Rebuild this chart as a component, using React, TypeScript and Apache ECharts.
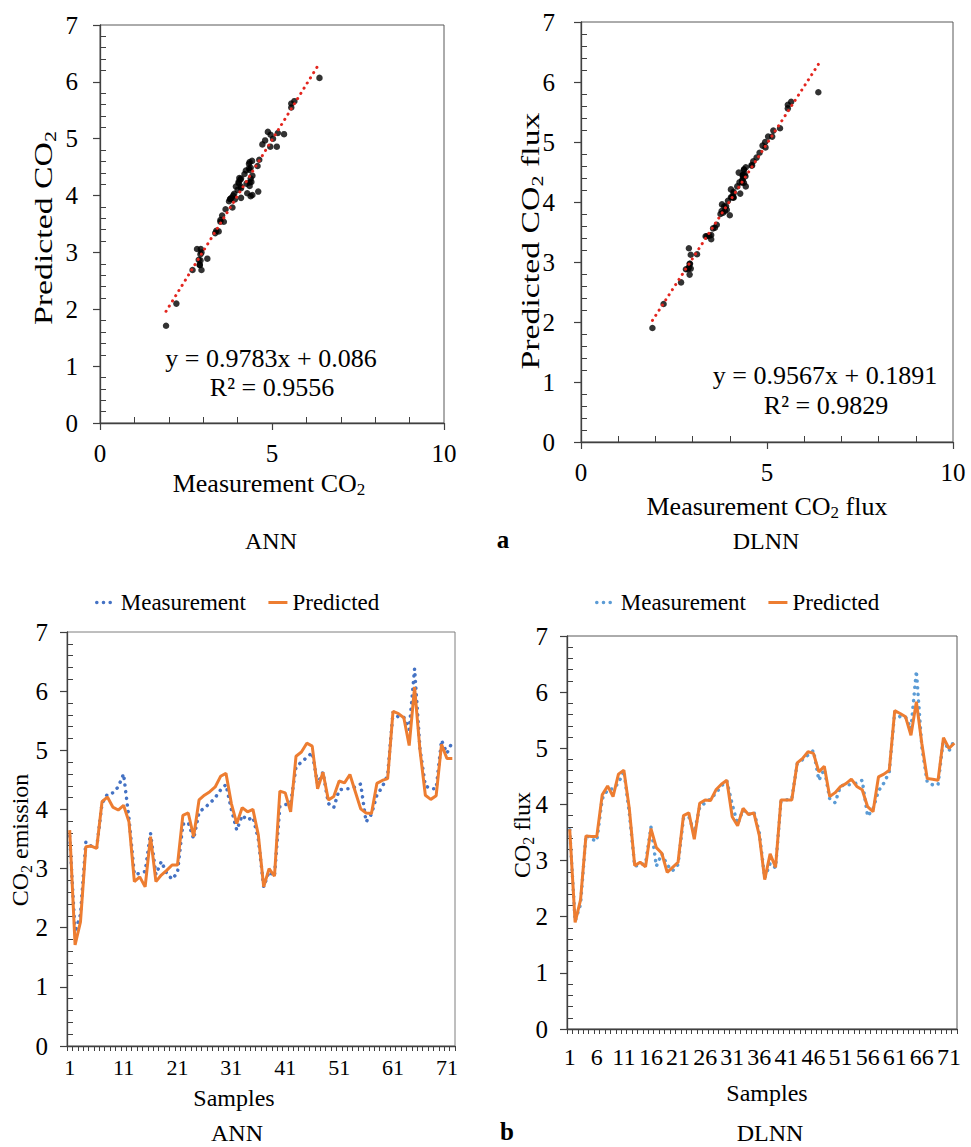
import React, { useEffect, useRef } from "react";
import * as echarts from "echarts";

// ---------- data ----------
const samples: string[] = Array.from({ length: 72 }, (_, i) => String(i + 1));

const measurement: number[] = [
  3.55, 1.92, 2.22, 3.45, 3.38, 3.35, 4.1, 4.26, 4.28, 4.38,
  4.6, 3.85, 2.9, 2.92, 2.95, 3.6, 2.9, 3.12, 2.92, 2.82,
  2.93, 3.75, 3.78, 3.5, 3.95, 4.03, 4.1, 4.2, 4.33, 4.42,
  4.0, 3.65, 3.9, 3.82, 3.87, 3.5, 2.69, 2.95, 2.87, 4.05,
  4.08, 4.1, 4.72, 4.8, 4.88, 4.96, 4.43, 4.63, 4.1, 4.03,
  4.33, 4.35, 4.35, 4.38, 4.43, 3.79, 3.92, 4.24, 4.38, 4.58,
  5.65, 5.56, 5.56, 5.35, 6.38, 5.03, 4.4, 4.35, 4.35, 5.17,
  4.95, 5.14,
];

const annPredicted: number[] = [
  3.65, 1.71, 2.1, 3.37, 3.38, 3.34, 4.13, 4.21, 4.04, 3.99,
  4.07, 3.79, 2.78, 2.86, 2.69, 3.54, 2.78, 2.89, 2.97, 3.06,
  3.06, 3.9, 3.94, 3.54, 4.16, 4.24, 4.3, 4.38, 4.56, 4.61,
  4.1, 3.76, 4.03, 3.96, 4.0, 3.57, 2.69, 3.0, 2.87, 4.31,
  4.28, 3.96, 4.9, 4.97, 5.12, 5.07, 4.35, 4.63, 4.16, 4.22,
  4.48, 4.45, 4.59, 4.3, 4.01, 3.94, 3.93, 4.44, 4.49, 4.52,
  5.66, 5.62, 5.55, 5.08, 6.07, 5.0, 4.24, 4.17, 4.23, 5.1,
  4.86, 4.86,
];

const dlnnPredicted: number[] = [
  3.56, 1.9, 2.3, 3.44, 3.43, 3.43, 4.17, 4.33, 4.14, 4.54,
  4.61, 3.93, 2.91, 2.97, 2.89, 3.57, 3.23, 3.13, 2.79, 2.88,
  2.97, 3.8, 3.85, 3.38, 4.02, 4.08, 4.07, 4.26, 4.36, 4.43,
  3.78, 3.62, 3.93, 3.82, 3.85, 3.45, 2.66, 3.12, 2.88, 4.08,
  4.08, 4.08, 4.74, 4.82, 4.94, 4.91, 4.58, 4.68, 4.14, 4.21,
  4.32, 4.37, 4.45, 4.32, 4.26, 3.96, 3.87, 4.49, 4.54, 4.61,
  5.67, 5.62, 5.56, 5.23, 5.83, 5.09, 4.46, 4.45, 4.43, 5.19,
  5.0, 5.09,
];

// trendline: [slope, intercept], R² label
const annTrend: number[] = [0.9783, 0.086];
const annR2 = "0.9556";
const dlnnTrend: number[] = [0.9567, 0.1891];
const dlnnR2 = "0.9829";

// ---------- styles ----------
const FONT = '"Liberation Serif", "Times New Roman", Times, serif';
const AXIS_COLOR = "#404040";
const DOTS = [0.1, 6.6];

const trendPoints = (t: number[]) => {
  const lo = Math.min(...measurement);
  const hi = Math.max(...measurement);
  return [
    [lo, t[0] * lo + t[1]],
    [hi, t[0] * hi + t[1]],
  ];
};

const valueAxis = (gi: number, max: number, interval: number, margin: number) => ({
  type: "value",
  gridIndex: gi,
  min: 0,
  max,
  interval,
  axisLine: { show: true, onZero: false, lineStyle: { color: AXIS_COLOR, width: 1.3 } },
  axisTick: { show: true, length: 7, lineStyle: { color: AXIS_COLOR, width: 1.2 } },
  minorTick: { show: true, splitNumber: 5, length: -6, lineStyle: { color: AXIS_COLOR, width: 1 } },
  splitLine: { show: false },
  minorSplitLine: { show: false },
  axisLabel: { fontSize: 25, fontFamily: FONT, color: "#000", margin },
});

const categoryAxis = (gi: number, labelInterval: number, margin: number, fontSize: number) => ({
  type: "category",
  gridIndex: gi,
  data: samples,
  boundaryGap: true,
  axisLine: { show: true, lineStyle: { color: AXIS_COLOR, width: 1.3 } },
  axisTick: { show: true, interval: 0, length: 5, lineStyle: { color: AXIS_COLOR } },
  axisLabel: { interval: labelInterval, fontSize, fontFamily: FONT, color: "#000", margin },
  splitLine: { show: false },
});

const text = (x: number, y: number, str: string, size: number, extra: any = {}, styleExtra: any = {}) => ({
  type: "text",
  x,
  y,
  ...extra,
  style: {
    text: str,
    fontSize: size,
    fontFamily: FONT,
    fill: "#000",
    align: "center",
    verticalAlign: "middle",
    rich: {
      s: { fontSize: Math.round(size * 0.65), fontFamily: FONT, fill: "#000", padding: [Math.round(size * 0.5), 0, 0, 0] },
    },
    ...styleExtra,
  },
});

const hiddenSymbol = { color: "rgba(0,0,0,0)", borderWidth: 0, opacity: 0 };

const legendFor = (left: number, measColor: string) => ({
  left,
  top: 591,
  padding: 0,
  itemWidth: 19,
  itemHeight: 14,
  itemGap: 21,
  textStyle: { fontSize: 23, fontFamily: FONT, color: "#000" },
  data: [
    { name: "Measurement", lineStyle: { color: measColor, width: 3.5, type: DOTS, cap: "round" }, itemStyle: hiddenSymbol },
    { name: "Predicted", lineStyle: { color: "#ED7D31", width: 3 }, itemStyle: hiddenSymbol },
  ],
});

export default function App() {
  const ref = useRef<HTMLDivElement>(null);

  useEffect(() => {
    if (!ref.current) return;
    const chart = echarts.init(ref.current, undefined, { renderer: "svg" });

    const option: any = {
      animation: false,
      backgroundColor: "#fff",
      grid: [
        { left: 100, top: 25, width: 344, height: 398, show: true, borderColor: "#595959", borderWidth: 1 },
        { left: 581, top: 22, width: 372, height: 420, show: true, borderColor: "#595959", borderWidth: 1 },
        { left: 67, top: 632, width: 388, height: 414, show: true, borderColor: "#7f7f7f", borderWidth: 1 },
        { left: 567, top: 636, width: 390, height: 393, show: true, borderColor: "#595959", borderWidth: 1 },
      ],
      xAxis: [
        valueAxis(0, 10, 5, 18),
        valueAxis(1, 10, 5, 18),
        categoryAxis(2, 9, 10, 22),
        categoryAxis(3, 4, 16, 24),
      ],
      yAxis: [
        valueAxis(0, 7, 1, 22),
        valueAxis(1, 7, 1, 26),
        valueAxis(2, 7, 1, 19),
        valueAxis(3, 7, 1, 19),
      ],
      legend: [legendFor(95, "#4472C4"), legendFor(595, "#5B9BD5")],
      series: [
        {
          name: "ANN scatter",
          type: "scatter",
          xAxisIndex: 0,
          yAxisIndex: 0,
          symbolSize: 6.5,
          itemStyle: { color: "#000" },
          data: measurement.map((m, i) => [m, annPredicted[i]]),
          z: 2,
        },
        {
          name: "ANN trend",
          type: "line",
          xAxisIndex: 0,
          yAxisIndex: 0,
          symbol: "none",
          lineStyle: { color: "#e3261f", width: 3, type: [0.1, 6], cap: "round" },
          data: trendPoints(annTrend),
          z: 3,
        },
        {
          name: "DLNN scatter",
          type: "scatter",
          xAxisIndex: 1,
          yAxisIndex: 1,
          symbolSize: 6.5,
          itemStyle: { color: "#000" },
          data: measurement.map((m, i) => [m, dlnnPredicted[i]]),
          z: 2,
        },
        {
          name: "DLNN trend",
          type: "line",
          xAxisIndex: 1,
          yAxisIndex: 1,
          symbol: "none",
          lineStyle: { color: "#e3261f", width: 3, type: [0.1, 6], cap: "round" },
          data: trendPoints(dlnnTrend),
          z: 3,
        },
        {
          name: "Measurement",
          type: "line",
          xAxisIndex: 2,
          yAxisIndex: 2,
          symbol: "none",
          lineStyle: { color: "#4472C4", width: 3.5, type: DOTS, cap: "round" },
          itemStyle: { color: "#4472C4" },
          data: measurement,
          z: 2,
        },
        {
          name: "Predicted",
          type: "line",
          xAxisIndex: 2,
          yAxisIndex: 2,
          symbol: "none",
          lineStyle: { color: "#ED7D31", width: 3 },
          itemStyle: { color: "#ED7D31" },
          data: annPredicted,
          z: 3,
        },
        {
          name: "Measurement",
          type: "line",
          xAxisIndex: 3,
          yAxisIndex: 3,
          symbol: "none",
          lineStyle: { color: "#5B9BD5", width: 3.5, type: DOTS, cap: "round" },
          itemStyle: { color: "#5B9BD5" },
          data: measurement,
          z: 2,
        },
        {
          name: "Predicted",
          type: "line",
          xAxisIndex: 3,
          yAxisIndex: 3,
          symbol: "none",
          lineStyle: { color: "#ED7D31", width: 3 },
          itemStyle: { color: "#ED7D31" },
          data: dlnnPredicted,
          z: 3,
        },
      ],
      graphic: [
        // equations
        text(271, 358, `y = ${annTrend[0]}x + ${annTrend[1]}`, 26),
        text(272, 387, `R² = ${annR2}`, 26),
        text(825, 375, `y = ${dlnnTrend[0]}x + ${dlnnTrend[1]}`, 26),
        text(826, 405, `R² = ${dlnnR2}`, 26),
        // axis names, top
        text(269, 483, "Measurement CO{s|2}", 26),
        text(767, 506, "Measurement CO{s|2} flux", 26),
        text(43, 228, "Predicted CO{s|2}", 26, { rotation: Math.PI / 2, scaleX: 1.3 }),
        text(530, 241, "Predicted CO{s|2} flux", 26, { rotation: Math.PI / 2, scaleX: 1.3 }),
        // axis names, bottom
        text(20, 840, "CO{s|2} emission", 24, { rotation: Math.PI / 2 }),
        text(522, 835, "CO{s|2} flux", 24, { rotation: Math.PI / 2 }),
        text(234, 1098, "Samples", 24),
        text(767, 1093, "Samples", 24),
        // captions
        text(271, 541, "ANN", 24),
        text(503, 539, "a", 25, {}, { fontWeight: "bold" }),
        text(766, 541, "DLNN", 24),
        text(237, 1133, "ANN", 24),
        text(507, 1131, "b", 25, {}, { fontWeight: "bold" }),
        text(770, 1133, "DLNN", 24),
      ],
    };

    chart.setOption(option);
    return () => chart.dispose();
  }, []);

  return (
    <div
      ref={ref}
      style={{ position: "absolute", left: 0, top: 0, width: 971, height: 1147, background: "#fff" }}
    />
  );
}
